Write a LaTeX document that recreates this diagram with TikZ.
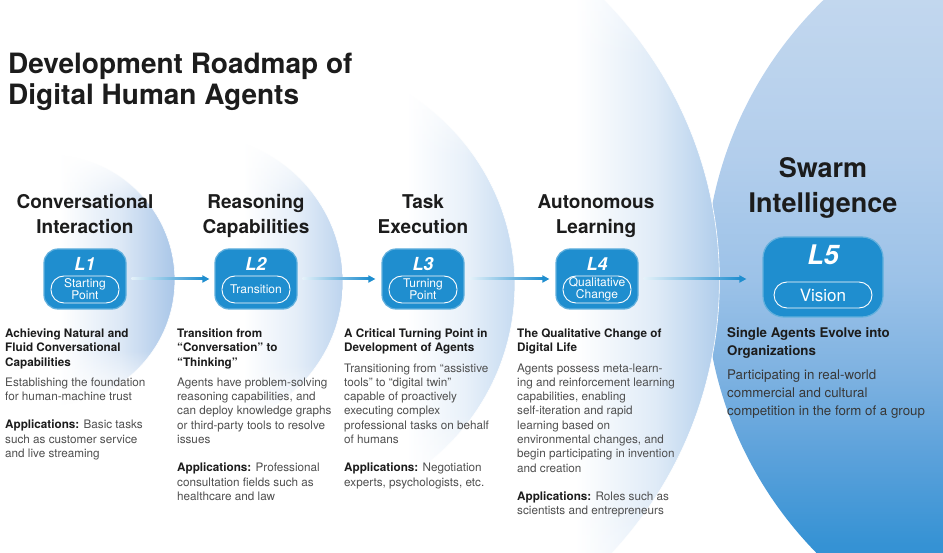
\documentclass[tikz,border=0pt]{standalone}
\usepackage{fontspec}
\setmainfont{TeX Gyre Heros}
\usetikzlibrary{arrows.meta,positioning,calc,fadings}
\definecolor{roadblue}{HTML}{1F8ECF}
\definecolor{roadink}{HTML}{1C1C1C}
\definecolor{roadgray}{HTML}{4F4F4F}
\definecolor{swarmink}{HTML}{383838}
\definecolor{rimone}{HTML}{A9C6E8}
\definecolor{rimtwo}{HTML}{BDD4EE}
\definecolor{rimthree}{HTML}{C6DBF1}
\definecolor{rimfour}{HTML}{B0CDEB}
\definecolor{swarmdeep}{HTML}{3592D4}
\definecolor{swarmlow}{HTML}{5DA2DB}
\definecolor{swarmmid}{HTML}{7EB2E1}
\definecolor{swarmsoft}{HTML}{9CC2E8}
\definecolor{swarmpale}{HTML}{B3CEEC}
\definecolor{swarmlight}{HTML}{C2D7EE}

% white inside, blue towards the right rim (start, middle, rim colour)
\newcommand{\crescentshade}[4]{%
  \pgfdeclarehorizontalshading{#1}{100bp}{color(0bp)=(white); color(#2bp)=(white);
    color(#3bp)=(#4!40!white); color(75bp)=(#4); color(100bp)=(#4)}}
\crescentshade{crescentone}{52}{64}{rimone}
\crescentshade{crescenttwo}{58}{67}{rimtwo}
\crescentshade{crescentthree}{63}{69.5}{rimthree}
\crescentshade{crescentfour}{66}{71}{rimfour}
\pgfdeclareverticalshading{swarmshade}{100bp}{color(0bp)=(swarmdeep); color(33bp)=(swarmdeep);
  color(39bp)=(swarmlow); color(44bp)=(swarmmid); color(50bp)=(swarmsoft);
  color(58bp)=(swarmpale); color(68bp)=(swarmlight); color(100bp)=(swarmlight)}
% rings thin out towards their top and bottom
\pgfdeclareverticalshading{rimfadeshade}{100bp}{color(0bp)=(black); color(25bp)=(black);
  color(36bp)=(white); color(64bp)=(white); color(75bp)=(black); color(100bp)=(black)}
\pgfdeclarefading{rimfade}{\pgfuseshading{rimfadeshade}}

\newcommand{\stagehead}[1]{\leavevmode{\color{roadink}\bfseries #1}}

\tikzset{
  ringline/.style={draw=white, line width=0.6pt, path fading=rimfade},
  roadtitle/.style={anchor=north west, align=left, inner sep=0pt, text=roadink,
    font=\bfseries\fontsize{28}{31}\selectfont},
  stagetitle/.style={anchor=north, align=center, inner sep=0pt, text=roadink,
    font=\bfseries\fontsize{19}{25}\selectfont},
  swarmtitle/.style={stagetitle, font=\bfseries\fontsize{27}{35}\selectfont},
  levelbox/.style={rectangle, rounded corners=14pt, fill=roadblue, draw=roadblue!70!white,
    line width=1.2pt, minimum width=82pt, minimum height=60pt},
  visionbox/.style={levelbox, rounded corners=21pt, minimum width=120pt, minimum height=80pt},
  leveltag/.style={inner sep=0pt, text=white, font=\bfseries\itshape\fontsize{18}{18}\selectfont},
  visiontag/.style={leveltag, font=\bfseries\itshape\fontsize{27}{27}\selectfont},
  levelpill/.style={rectangle, rounded corners=13pt, draw=white, line width=0.9pt,
    minimum width=68pt, minimum height=27pt, inner sep=0pt, align=center, text=white,
    font=\fontsize{12}{11.8}\selectfont},
  visionpill/.style={levelpill, minimum width=98pt, minimum height=26pt,
    font=\fontsize{17}{17}\selectfont},
  stagetext/.style={anchor=north west, inner sep=0pt, text width=175pt, align=flush left,
    text=roadgray, font=\fontsize{11.7}{14.3}\selectfont},
  swarmtext/.style={stagetext, text=swarmink, text width=215pt,
    font=\fontsize{13.3}{18}\selectfont},
  shaftfade/.style={left color=roadblue!12, right color=roadblue},
  flowtip/.style={-{Triangle[length=7pt,width=7pt]}, line width=2pt, draw=roadblue}
}

\begin{document}
\begin{tikzpicture}[x=1pt,y=-1pt]
\useasboundingbox (0,0) rectangle (943,553);

% backdrop rings, largest first
\begin{scope}
\clip (0,0) rectangle (943,553);
\shade[shading=swarmshade] (1095,280) circle[radius=390pt];
\shade[shading=crescentfour, ringline] (320,280) circle[radius=400pt];
\shade[shading=crescentthree, ringline] (290,285) circle[radius=225pt];
\shade[shading=crescenttwo, ringline] (197,282) circle[radius=146pt];
\shade[shading=crescentone, ringline] (50,280) circle[radius=125pt];
\end{scope}

\node[roadtitle] (title) at (8,52.5) {Development Roadmap of\\Digital Human Agents};

% stage headings
\node[stagetitle] (t1) at (85,194) {Conversational\\Interaction};
\node[stagetitle] (t2) at (256,194) {Reasoning\\Capabilities};
\node[stagetitle] (t3) at (423,194) {Task\\Execution};
\node[stagetitle] (t4) at (596,194) {Autonomous\\Learning};
\node[swarmtitle] (t5) at (823,157) {Swarm\\Intelligence};

% level boxes
\node[levelbox] (l1) at (85,279) {};
\node[leveltag] (l1tag) at ([yshift=15pt]l1.center) {L1};
\node[levelpill] (l1pill) at ([yshift=-10.5pt]l1.center) {Starting\\Point};
\node[levelbox] (l2) at (256,279) {};
\node[leveltag] (l2tag) at ([yshift=15pt]l2.center) {L2};
\node[levelpill] (l2pill) at ([yshift=-10.5pt]l2.center) {Transition};
\node[levelbox] (l3) at (423,279) {};
\node[leveltag] (l3tag) at ([yshift=15pt]l3.center) {L3};
\node[levelpill] (l3pill) at ([yshift=-10.5pt]l3.center) {Turning\\Point};
\node[levelbox] (l4) at (597,279) {};
\node[leveltag] (l4tag) at ([yshift=15pt]l4.center) {L4};
\node[levelpill] (l4pill) at ([yshift=-10.5pt]l4.center) {Qualitative\\Change};
\node[visionbox] (l5) at (823,277) {};
\node[visiontag] (l5tag) at ([yshift=22pt]l5.center) {L5};
\node[visionpill] (l5pill) at ([yshift=-18pt]l5.center) {Vision};

% fading connectors
\foreach \a/\b/\gap in {l1/l2/5,l2/l3/6,l3/l4/6,l4/l5/16}{
  \shade[shaftfade] ($(\a.east)+(5,-1)$) rectangle ($(\b.west |- \a.east)+(-\gap-6,1)$);
  \draw[flowtip] ($(\b.west |- \a.east)+(-\gap-7,0)$) -- ($(\b.west |- \a.east)+(-\gap,0)$);
}

% stage descriptions
\node[stagetext] (d1) at (5,328.5) {\stagehead{Achieving Natural and\\Fluid Conversational\\Capabilities}\\[6pt]
  Establishing the foundation\\for human-machine trust\\[14pt]
  \stagehead{Applications:} Basic tasks\\such as customer service\\and live streaming};
\node[stagetext] (d2) at (177,328.5) {\stagehead{Transition from\\“Conversation” to\\“Thinking”}\\[6pt]
  Agents have problem-solving\\reasoning capabilities, and\\can deploy knowledge graphs\\or third-party tools to resolve\\issues\\[14pt]
  \stagehead{Applications:} Professional\\consultation fields such as\\healthcare and law};
\node[stagetext] (d3) at (344,328.5) {\stagehead{A Critical Turning Point in\\Development of Agents}\\[6pt]
  Transitioning from “assistive\\tools” to “digital twin”\\capable of proactively\\executing complex\\professional tasks on behalf\\of humans\\[14pt]
  \stagehead{Applications:} Negotiation\\experts, psychologists, etc.};
\node[stagetext] (d4) at (517,328.5) {\stagehead{The Qualitative Change of\\Digital Life}\\[6pt]
  Agents possess meta-learn-\\ing and reinforcement learning\\capabilities, enabling\\self-iteration and rapid\\learning based on\\environmental changes, and\\begin participating in invention\\and creation\\[14pt]
  \stagehead{Applications:} Roles such as\\scientists and entrepreneurs};
\node[swarmtext] (d5) at (727,327) {\stagehead{Single Agents Evolve into\\Organizations}\\[6pt]
  Participating in real-world\\commercial and cultural\\competition in the form of a group};
\end{tikzpicture}
\end{document}
